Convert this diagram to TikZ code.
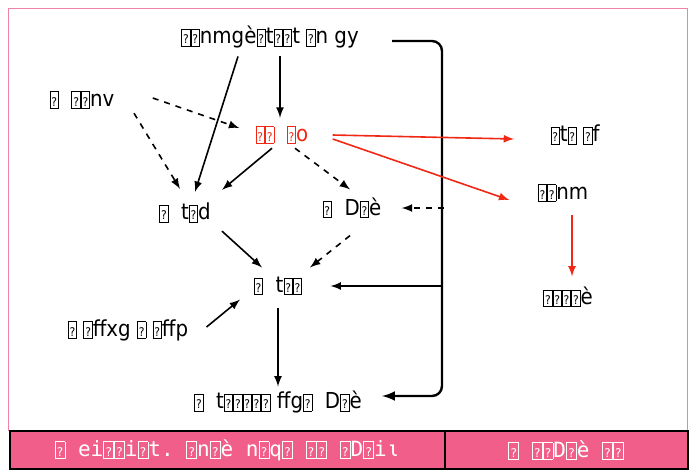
\documentclass[tikz,border=0pt]{standalone}
\usepackage{fontspec}
\setmainfont{DejaVu Sans Condensed}
\newfontfamily\barfont{DejaVu Sans Mono}
\usetikzlibrary{calc}
\definecolor{barpink}{RGB}{241,94,138}
\definecolor{framepink}{RGB}{240,130,170}
\definecolor{arrred}{RGB}{240,40,20}
% missing glyph box
\newcommand{\qb}{{\fboxsep=0.5pt\fboxrule=0.4pt\fbox{\rule[-0.5pt]{0pt}{7pt}\fontsize{6}{6}\selectfont ?}}}
\tikzset{
    lbl/.style={font=\fontsize{11}{13}\selectfont, inner sep=2pt},
    arr/.style={thick,-latex},
    darr/.style={arr,dashed},
    rarr/.style={arr,arrred}
}
\begin{document}
\begin{tikzpicture}[x=0.5pt,y=-0.5pt]
    \useasboundingbox (0,0) rectangle (689,472);
    %% frame and bottom bar
    \draw[framepink] (8.5,8.5) rectangle (687.5,430);
    \draw[line width=1pt,fill=barpink] (10,431) rectangle (688,469);
    \draw[line width=1pt] (445,431) -- (445,469);
    \node[font=\barfont\fontsize{10.5}{12}\selectfont,text=white] (barl) at (227,450)
        {\qb\ ei\qb\qb i\qb t.\ \qb n\qb è\ n\qb q\qb\ \qb\qb\ \qb D\qb iι};
    \node[font=\barfont\fontsize{10.5}{12}\selectfont,text=white] (barr) at (566,450)
        {\qb\ \qb\qb D\qb è\ \qb\qb};
    %% labels
    \node[lbl] (top) at (270,37) {\qb\qb nmgè\qb t\qb\qb t \qb n gy};
    \node[lbl] (nv) at (82,100) {\qb\ \ \qb\qb nv};
    \node[lbl,text=arrred] (red) at (282,135) {\qb\qb\ \ \qb o};
    \node[lbl] (sf) at (575,135) {\qb t\qb\ \qb f};
    \node[lbl] (nm) at (563,193) {\qb\qb nm};
    \node[lbl] (ee) at (568,297) {\qb\qb\qb\qb è};
    \node[lbl] (tqd) at (185,213) {\qb\ \ t\qb d};
    \node[lbl] (dqe) at (352,208) {\qb\ \ D\qb è};
    \node[lbl] (tqq) at (278,286) {\qb\ \ t\qb\qb};
    \node[lbl] (ffp) at (128,330) {\qb\ \qb ffxg\ \qb\ \qb ffp};
    \node[lbl] (fin) at (278,402) {\qb\ \ t\qb\qb\qb\qb\qb\ ffg\qb\ \ D\qb è};
    %% bracket
    \coordinate (brtop) at (392,41);
    \coordinate (brbot) at (442,396);
    \coordinate (brD) at (444,210);
    \coordinate (brT) at (442,292);
    \draw[very thick,-latex,rounded corners=5pt] (brtop) -| (brbot) -- ([xshift=8pt]brbot -| fin.east);
    \draw[darr] (brD |- dqe.east) -- ([xshift=8pt]dqe.east);
    \draw[arr] (brT |- tqq.east) -- ([xshift=12pt]tqq.east);
    %% arrows
    \draw[arr] ([xshift=-16pt,yshift=-2pt]top.south) -- ([xshift=5pt,yshift=3.5pt]tqd.north);
    \draw[arr] ([xshift=5pt,yshift=-2pt]top.south) -- ([xshift=-1pt,yshift=2pt]red.north);
    \draw[darr] ([xshift=17pt,yshift=1pt]nv.east) -- ([xshift=-6pt,yshift=3.5pt]red.west);
    \draw[darr] ([xshift=26pt]nv.south) -- ([xshift=-2.5pt,yshift=5pt]tqd.north);
    \draw[arr] ([xshift=-5pt]red.south) -- ([xshift=18.5pt,yshift=4.5pt]tqd.north);
    \draw[darr] ([xshift=6.5pt]red.south) -- ([xshift=-1pt,yshift=2pt]dqe.north);
    \draw[rarr] ([xshift=10pt]red.east) -- ([xshift=-16pt,yshift=-2pt]sf.west);
    \draw[rarr] ([xshift=10pt,yshift=-2pt]red.east) -- ([xshift=-12pt,yshift=-3.5pt]nm.west);
    \draw[rarr] ([xshift=4.5pt,yshift=-4.5pt]nm.south) -- ([xshift=2pt,yshift=3pt]ee.north);
    \draw[arr] ([xshift=18.5pt,yshift=-2pt]tqd.south) -- ([xshift=-8pt,yshift=2.5pt]tqq.north);
    \draw[darr] ([xshift=-1pt,yshift=-6.5pt]dqe.south) -- ([xshift=16pt,yshift=2.5pt]tqq.north);
    \draw[arr] ([xshift=7pt,yshift=1.5pt]ffp.east) -- ([xshift=-19pt]tqq.south);
    \draw[arr] ([yshift=-4pt]tqq.south) -- (fin.north);
\end{tikzpicture}
\end{document}
